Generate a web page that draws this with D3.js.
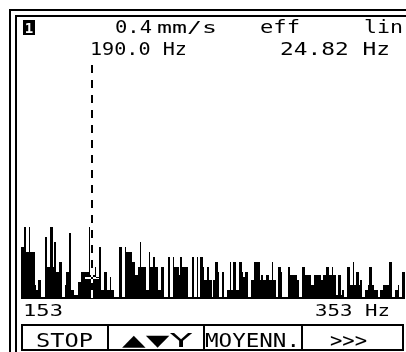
<!DOCTYPE html>
<html>
<head>
<meta charset="utf-8">
<script src="https://cdn.jsdelivr.net/npm/d3@7"></script>
<style>
  html, body { margin: 0; padding: 0; background: #fff; }
  svg { display: block; }
  text { font-family: "DejaVu Sans Mono", monospace; fill: #000; }
</style>
</head>
<body>
<div id="chart"></div>
<script>
// spectrum settings
const freqStart = 153;
const freqEnd = 353;
const fullScale = 0.4;           // mm/s
const cursorFreq = 190.0;        // Hz
const cursorLevel = 0.034;       // mm/s at cursor
const headerLabels = ['0.4', 'mm/s', 'eff', 'lin'];
const cursorLabels = ['190.0 Hz', '24.82 Hz'];
const xTickLabels = ['153', '353 Hz'];
const softKeys = ['STOP', '▲▼Y', 'MOYENN.', '>>>'];

// amplitude per FFT line, mm/s (256 lines)
const amplitudes = [
  .085,.085,.118,.077,.077,.118,.077,.077,.077,.023,.015,.031,.031,.003,.003,.003,
  .102,.052,.052,.118,.118,.052,.093,.044,.044,.061,.061,.003,.003,.023,.044,.044,
  .108,.015,.015,.007,.007,.007,.028,.028,.044,.044,.044,.044,.044,.118,.039,.039,
  .039,.052,.034,.034,.085,.015,.015,.044,.044,.015,.015,.036,.015,.015,.003,.003,
  .003,.085,.085,.003,.003,.085,.077,.077,.077,.077,.061,.061,.039,.039,.052,.093,
  .052,.052,.052,.015,.015,.077,.052,.052,.069,.052,.052,.015,.015,.052,.052,.003,
  .003,.003,.069,.003,.003,.069,.052,.052,.052,.039,.069,.052,.052,.052,.052,.003,
  .003,.003,.069,.003,.003,.069,.003,.069,.069,.052,.031,.031,.052,.031,.031,.003,
  .031,.061,.061,.044,.003,.003,.044,.003,.003,.015,.015,.061,.015,.061,.061,.015,
  .015,.061,.061,.044,.036,.044,.044,.003,.003,.031,.031,.061,.061,.061,.061,.031,
  .039,.031,.031,.039,.039,.031,.031,.061,.031,.031,.003,.052,.052,.044,.003,.003,
  .003,.003,.052,.039,.039,.039,.039,.039,.031,.003,.003,.052,.052,.039,.039,.039,
  .039,.023,.023,.039,.039,.039,.039,.039,.031,.039,.039,.052,.052,.039,.039,.052,
  .039,.039,.007,.039,.039,.007,.015,.003,.003,.052,.052,.023,.023,.061,.023,.044,
  .044,.023,.031,.003,.003,.015,.015,.023,.052,.052,.023,.015,.015,.015,.003,.015,
  .015,.023,.023,.023,.023,.061,.061,.003,.003,.015,.015,.023,.003,.003,.044,.044
];

const width = 406;
const height = 352;

const svg = d3.select('#chart').append('svg')
  .attr('width', width)
  .attr('height', height);

svg.append('rect')
  .attr('width', width)
  .attr('height', height)
  .attr('fill', '#fff');

// double frame, cut off on the right and bottom
svg.append('rect')
  .attr('x', 10).attr('y', 10)
  .attr('width', 500).attr('height', 500)
  .attr('fill', 'none').attr('stroke', '#000').attr('stroke-width', 2);
svg.append('rect')
  .attr('x', 16).attr('y', 16)
  .attr('width', 500).attr('height', 500)
  .attr('fill', 'none').attr('stroke', '#000').attr('stroke-width', 2);

const x = d3.scaleLinear().domain([freqStart, freqEnd]).range([21, 405]);
const y = d3.scaleLinear().domain([0, fullScale]).range([299, 55]);
const binWidth = (freqEnd - freqStart) / amplitudes.length;

// header
svg.append('rect')
  .attr('x', 23).attr('y', 20)
  .attr('width', 12).attr('height', 15)
  .attr('fill', '#000');
svg.append('text')
  .attr('x', 29).attr('y', 32.5)
  .attr('text-anchor', 'middle')
  .style('font-size', '14px')
  .style('font-weight', 'bold')
  .style('fill', '#fff')
  .text('1');

const header = svg.append('g').style('font-size', '18px');
header.append('text').attr('x', 115).attr('y', 33)
  .attr('textLength', 37).attr('lengthAdjust', 'spacingAndGlyphs')
  .text(headerLabels[0]);
header.append('text').attr('x', 157).attr('y', 33)
  .attr('textLength', 60).attr('lengthAdjust', 'spacingAndGlyphs')
  .style('font-size', '15px')
  .text(headerLabels[1]);
header.append('text').attr('x', 260).attr('y', 33)
  .attr('textLength', 40).attr('lengthAdjust', 'spacingAndGlyphs')
  .text(headerLabels[2]);
header.append('text').attr('x', 364).attr('y', 33)
  .attr('textLength', 39).attr('lengthAdjust', 'spacingAndGlyphs')
  .text(headerLabels[3]);

header.append('text').attr('x', 90).attr('y', 55)
  .attr('textLength', 97).attr('lengthAdjust', 'spacingAndGlyphs')
  .text(cursorLabels[0]);
header.append('text').attr('x', 280).attr('y', 55)
  .attr('textLength', 110).attr('lengthAdjust', 'spacingAndGlyphs')
  .text(cursorLabels[1]);

// spectrum bars
svg.append('g')
  .attr('shape-rendering', 'crispEdges')
  .selectAll('rect')
  .data(amplitudes)
  .enter().append('rect')
  .attr('x', (d, i) => x(freqStart + i * binWidth))
  .attr('width', (d, i) => x(freqStart + (i + 1) * binWidth) - x(freqStart + i * binWidth))
  .attr('y', d => y(d))
  .attr('height', d => y(0) - y(d))
  .attr('fill', '#000');

// cursor, drawn inverted like the LCD does
const cursor = svg.append('g')
  .attr('shape-rendering', 'crispEdges')
  .style('mix-blend-mode', 'difference');
cursor.append('line')
  .attr('x1', x(cursorFreq)).attr('x2', x(cursorFreq))
  .attr('y1', 65).attr('y2', y(0))
  .attr('stroke', '#fff')
  .attr('stroke-width', 2)
  .attr('stroke-dasharray', '8,7')
  .style('mix-blend-mode', 'difference');
cursor.append('line')
  .attr('x1', x(cursorFreq) - 7).attr('x2', x(cursorFreq) + 7)
  .attr('y1', y(cursorLevel)).attr('y2', y(cursorLevel))
  .attr('stroke', '#fff')
  .attr('stroke-width', 2)
  .style('mix-blend-mode', 'difference');

// frequency range labels
const axis = svg.append('g').style('font-size', '16.5px');
axis.append('text').attr('x', 23).attr('y', 316)
  .attr('textLength', 40).attr('lengthAdjust', 'spacingAndGlyphs')
  .text(xTickLabels[0]);
axis.append('text').attr('x', 315).attr('y', 316)
  .attr('textLength', 75).attr('lengthAdjust', 'spacingAndGlyphs')
  .text(xTickLabels[1]);

// soft keys
const keyEdges = [22, 108, 204, 302, 403];
const keys = svg.append('g');
keys.append('rect')
  .attr('x', 22).attr('y', 325)
  .attr('width', 381).attr('height', 25)
  .attr('fill', 'none').attr('stroke', '#000').attr('stroke-width', 2);
keys.selectAll('line')
  .data(keyEdges.slice(1, -1))
  .enter().append('line')
  .attr('x1', d => d).attr('x2', d => d)
  .attr('y1', 325).attr('y2', 350)
  .attr('stroke', '#000').attr('stroke-width', 2);
const keyText = [
  { x: 36, w: 57 },
  { x: 122, w: 71 },
  { x: 205, w: 95 },
  { x: 330, w: 37 }
];
keys.selectAll('text')
  .data(softKeys)
  .enter().append('text')
  .attr('x', (d, i) => keyText[i].x)
  .attr('y', 347)
  .attr('textLength', (d, i) => keyText[i].w)
  .attr('lengthAdjust', 'spacingAndGlyphs')
  .style('font-size', '20px')
  .text(d => d);
</script>
</body>
</html>
